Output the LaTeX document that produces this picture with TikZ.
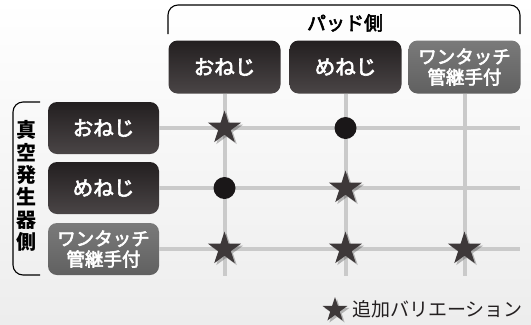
\documentclass[tikz,border=0pt]{standalone}
\usepackage{fontspec}
\setmainfont{Noto Sans CJK JP}
\newfontfamily\medjp[FakeBold=3]{Noto Sans CJK JP}
\usetikzlibrary{shapes.geometric,shadows}
\definecolor{boxtop}{HTML}{231F20}
\definecolor{boxbot}{HTML}{4A4546}
\definecolor{graytop}{HTML}{7A7A7A}
\definecolor{graybot}{HTML}{606060}
\definecolor{gridc}{HTML}{CACACA}
\definecolor{starc}{HTML}{3D3839}
\definecolor{dotc}{HTML}{1A1718}
\definecolor{bgbot}{HTML}{EDEDED}
\tikzset{
  hdrbox/.style={rounded corners=9bp, minimum width=112bp, minimum height=53bp,
    inner sep=0pt, text=white, align=center},
  darkbox/.style={hdrbox, top color=boxtop, bottom color=boxbot,
    font=\medjp\fontsize{20.5bp}{22bp}\selectfont},
  graybox/.style={hdrbox, top color=graytop, bottom color=graybot,
    font=\medjp\fontsize{18.5bp}{20.5bp}\selectfont},
  gridline/.style={draw=gridc, line width=4bp},
  starmark/.style={star, star points=5, star point ratio=2.618, minimum size=35bp,
    inner sep=0pt, fill=starc,
    drop shadow={shadow xshift=2bp, shadow yshift=-2bp, opacity=0.25, fill=black}},
  dotmark/.style={circle, minimum size=22bp, inner sep=0pt, fill=dotc},
  bracket/.style={draw=black, line width=1.1bp, rounded corners=10bp},
}
\begin{document}
\begin{tikzpicture}[x=1bp,y=-1bp]
\useasboundingbox (0,0) rectangle (531,324);
\shade[top color=white, middle color=white, bottom color=bgbot] (0,0) rectangle (531,324);

% brackets
\draw[bracket] (168,34) -- (168,5) -- (520,5) -- (520,34);
\draw[bracket] (40,102) -- (13,102) -- (13,275) -- (40,275);
\node[font=\medjp\fontsize{19bp}{21bp}\selectfont] (pad) at (345,23) {パッド側};
\node[font=\bfseries\fontsize{20bp}{22.4bp}\selectfont, align=center] (gen) at (26.5,186)
  {真\\空\\発\\生\\器\\側};

% headers
\node[darkbox] (c1) at (224.5,67) {おねじ};
\node[darkbox] (c2) at (345.5,67) {めねじ};
\node[graybox] (c3) at (464.5,67) {ワンタッチ\\管継手付};
\node[darkbox, minimum width=111bp, minimum height=52bp] (r1) at (103.5,128) {おねじ};
\node[darkbox, minimum width=111bp, minimum height=52bp] (r2) at (103.5,188) {めねじ};
\node[graybox, minimum width=111bp, minimum height=52bp] (r3) at (103.5,249) {ワンタッチ\\管継手付};

% grid ends
\coordinate (v1) at (224.5,276);
\coordinate (v2) at (345.5,276);
\coordinate (v3) at (464.5,276);
\coordinate (h1) at (520,128);
\coordinate (h2) at (520,188);
\coordinate (h3) at (520,249);

\draw[gridline] (c1) -- (v1);
\draw[gridline] (c2) -- (v2);
\draw[gridline] (c3) -- (v3);
\draw[gridline] (r1) -- (h1);
\draw[gridline] (r2) -- (h2);
\draw[gridline] (r3) -- (h3);

% marks
\node[starmark] (s11) at (c1 |- r1) {};
\node[dotmark]  (d21) at (c2 |- r1) {};
\node[dotmark]  (d12) at (c1 |- r2) {};
\node[starmark] (s22) at (c2 |- r2) {};
\node[starmark] (s13) at (c1 |- r3) {};
\node[starmark] (s23) at (c2 |- r3) {};
\node[starmark] (s33) at (c3 |- r3) {};

% legend
\node[starmark, minimum size=26bp] (ls) at (335,310) {};
\node[anchor=west, text=boxtop, font=\fontsize{19bp}{21bp}\selectfont, inner sep=0pt] (lt) at (352,309) {追加バリエーション};
\end{tikzpicture}
\end{document}
